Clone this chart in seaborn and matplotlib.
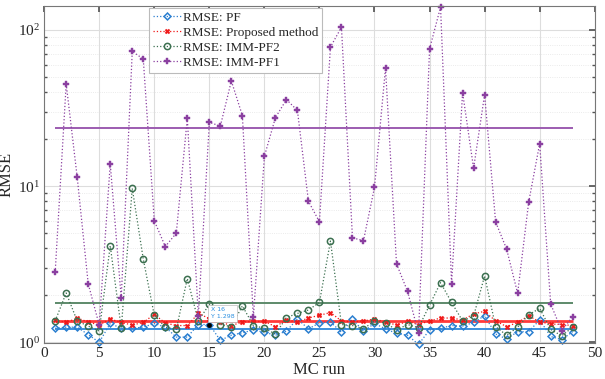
import numpy as np
import pandas as pd
import matplotlib
matplotlib.use("Agg")
import matplotlib.pyplot as plt
import seaborn as sns

# MC run index
runs = list(range(1, 49))

# RMSE per run
rmse_pf = [1.23, 1.25, 1.25, 1.12, 1.00, 1.32, 1.23, 1.23, 1.25, 1.32, 1.25, 1.08,
           1.08, 1.30, 1.30, 1.03, 1.11, 1.15, 1.20, 1.16, 1.11, 1.18, 1.41, 1.22,
           1.33, 1.35, 1.16, 1.40, 1.18, 1.32, 1.22, 1.14, 1.11, 0.97, 1.20, 1.23,
           1.28, 1.27, 1.34, 1.48, 1.13, 1.05, 1.17, 1.17, 1.39, 1.09, 1.04, 1.17]
rmse_prop = [1.39, 1.34, 1.43, 1.35, 1.29, 1.41, 1.34, 1.29, 1.34, 1.51, 1.33, 1.28,
             1.28, 1.53, 1.42, 1.35, 1.28, 1.35, 1.36, 1.36, 1.26, 1.39, 1.35, 1.43,
             1.49, 1.55, 1.37, 1.35, 1.37, 1.41, 1.35, 1.29, 1.36, 1.30, 1.37, 1.43,
             1.43, 1.39, 1.52, 1.58, 1.37, 1.26, 1.34, 1.48, 1.35, 1.31, 1.30, 1.28]
rmse_imm2 = [1.37, 2.07, 1.37, 1.27, 1.18, 4.15, 1.23, 9.67, 3.41, 1.49, 1.25, 1.21,
             2.56, 1.37, 1.75, 1.30, 1.26, 1.71, 1.28, 1.23, 1.13, 1.44, 1.53, 1.61,
             1.80, 4.45, 1.30, 1.28, 1.22, 1.37, 1.33, 1.20, 1.30, 1.24, 1.73, 2.41,
             1.80, 1.37, 1.47, 2.66, 1.26, 1.11, 1.25, 1.50, 1.65, 1.21, 1.10, 1.25]
rmse_imm1 = [2.8, 45.1, 11.4, 2.37, 1.29, 13.9, 1.92, 72.8, 65.1, 6.0, 4.1, 5.0,
             27.2, 1.48, 25.6, 24.2, 47.1, 28.3, 1.45, 15.5, 27.4, 35.8, 30.5, 8.0,
             5.9, 77.6, 104.0, 4.66, 4.48, 9.8, 57.0, 3.18, 2.12, 1.14, 75.4, 140.0,
             2.37, 39.7, 13.0, 38.5, 5.9, 3.95, 2.06, 7.87, 18.7, 1.76, 1.19, 1.46]

# overall level lines
level_pf = 1.22
level_prop = 1.37
level_imm2 = 1.79
level_imm1 = 23.5

labels = ["RMSE: PF", "RMSE: Proposed method", "RMSE: IMM-PF2", "RMSE: IMM-PF1"]
xticks = [0, 5, 10, 15, 20, 25, 30, 35, 40, 45, 50]

sns.set_theme(style="white")
plt.rcParams['font.family'] = ['Liberation Serif', 'DejaVu Serif']
plt.rcParams['mathtext.fontset'] = 'stix'

fig = plt.figure(figsize=(6.05, 3.79), dpi=100)
ax = fig.add_axes([0.073, 0.095, 0.910, 0.889])

series = [
    (rmse_pf, level_pf, "#2b7fd0", "#3d8fdc", "D", dict(markersize=3.5, markerfacecolor="none", markeredgewidth=1.1)),
    (rmse_prop, level_prop, "#f01818", "#ff3a3a", "X", dict(markersize=3.5, markeredgewidth=0.3)),
    (rmse_imm2, level_imm2, "#3c7050", "#5d8a6a", "o", dict(markersize=4.5, markerfacecolor="none", markeredgewidth=1.1)),
    (rmse_imm1, level_imm1, "#8a3fa0", "#9c5cb0", "P", dict(markersize=4, markeredgewidth=0.3)),
]

for (vals, lvl, col, lcol, mk, mkw), lab in zip(series, labels):
    df = pd.DataFrame({"run": runs, "rmse": vals})
    sns.lineplot(data=df, x="run", y="rmse", ax=ax, color=col, marker=mk,
                 linestyle=":", linewidth=0.9, label=lab, clip_on=False,
                 markeredgecolor=col, **mkw)
    ax.hlines(lvl, runs[0], runs[-1], color=lcol, linewidth=1.4 if lab != labels[1] else 2.0, zorder=1)

ax.set_yscale("log")
ax.set_ylim(0.99, 142)
ax.set_xlim(0, 50)
ax.set_xticks(xticks)
ax.set_xlabel("MC run", fontsize=12, labelpad=1)
ax.set_ylabel("RMSE", fontsize=12, labelpad=2)
ax.tick_params(axis='both', which='major', labelsize=11, direction='in', length=4,
               top=True, right=True, color="#555555", pad=3)
ax.tick_params(axis='y', which='minor', direction='in', length=2, right=True, left=True, color="#555555")
ax.tick_params(axis='x', which='minor', bottom=False, top=False)

ax.grid(True, which='major', color="#dddddd", linewidth=0.8)
ax.grid(True, which='minor', axis='y', color="#e4e4e4", linewidth=0.6, linestyle=':')
for s in ax.spines.values():
    s.set_color("#777777")
    s.set_linewidth(0.8)

# data tip box
ax.plot([15], [rmse_pf[14]], marker="o", color="black", markersize=2.5, zorder=6)
ax.text(15.15, 1.53, "X 16\nY 1.298", fontsize=4.5, color="#2b8fe0", family="DejaVu Sans",
        va="center", ha="left", linespacing=1.5, zorder=7,
        bbox=dict(boxstyle="square,pad=0.4", facecolor="white", edgecolor="#bbbbbb", linewidth=0.5))

leg = ax.legend(loc="upper left", bbox_to_anchor=(0.19, 0.995), fontsize=9.5, frameon=True,
                fancybox=False, framealpha=1, edgecolor="#bbbbbb", borderpad=0.3,
                labelspacing=0.2, handlelength=2.2, handletextpad=0.1, borderaxespad=0)
leg.get_frame().set_linewidth(0.8)

fig.savefig("out.png", dpi=100)
